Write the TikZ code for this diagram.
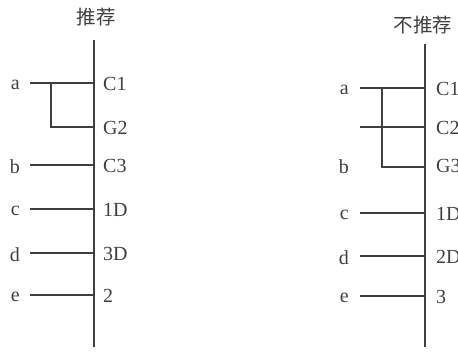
\documentclass[tikz,border=0pt]{standalone}
\usepackage{fontspec}
\setmainfont{Liberation Serif}
\newfontfamily\cjk{Noto Sans CJK SC}
\definecolor{ink}{HTML}{3F3F3F}
\begin{document}
\begin{tikzpicture}[x=1pt,y=-1pt,
  lbl/.style={font=\fontsize{20}{22}\selectfont, text=ink, inner sep=0pt},
  ttl/.style={font=\cjk\fontsize{19.5}{22}\selectfont, text=ink, inner sep=0pt},
  wire/.style={draw=ink, line width=1.4pt}]
\clip (0,0) rectangle (458,351);
\useasboundingbox (0,0) rectangle (458,351);
% ---------- left panel ----------
\node[ttl] (Lt) at (96,17) {推荐};
\coordinate (LT) at (94,40);
\coordinate (LB) at (94,347);
\draw[wire] (LT) -- (LB);
\foreach \n/\y in {a/83,b/165,c/209,d/253,e/295} {
  \coordinate (LY\n) at (0,\y);
  \node[lbl, anchor=east] (L\n) at (20,\y+2) {\n};
  \draw[wire] ([xshift=10pt]L\n.east |- LY\n) -- (LY\n -| LT);
}
\node[lbl, anchor=west] (LC1) at (103,84) {C1};
\node[lbl, anchor=west] (LG2) at (103,128) {G2};
\node[lbl, anchor=west] (LC3) at (103,166) {C3};
\node[lbl, anchor=west] (L1D) at (103,210) {1D};
\node[lbl, anchor=west] (L3D) at (103,254) {3D};
\node[lbl, anchor=west] (L2) at (103,296) {2};
\coordinate (Lk) at (51,83);
\draw[wire] (Lk) |- ([yshift=1pt]LG2.west -| LT);
% ---------- right panel ----------
\node[ttl] (Rt) at (423,25) {不推荐};
\coordinate (RT) at (425,44);
\coordinate (RB) at (425,347);
\draw[wire] (RT) -- (RB);
\node[lbl, anchor=east] (Rb) at (349,167) {b};
\foreach \n/\y in {a/88,c/213,d/256,e/296} {
  \coordinate (RY\n) at (0,\y);
  \node[lbl, anchor=east] (R\n) at (349,\y+2) {\n};
  \draw[wire] ([xshift=11pt]R\n.east |- RY\n) -- (RY\n -| RT);
}
\node[lbl, anchor=west] (RC1) at (436,89) {C1};
\node[lbl, anchor=west] (RC2) at (436,128) {C2};
\node[lbl, anchor=west] (RG3) at (436,166) {G3};
\node[lbl, anchor=west] (R1D) at (436,214) {1D};
\node[lbl, anchor=west] (R2D) at (436,257) {2D};
\node[lbl, anchor=west] (R3) at (436,297) {3};
\coordinate (Rs) at (360,127);
\draw[wire] (Rs) -- (Rs -| RT);
\coordinate (Rk) at (382,88);
\draw[wire] (Rk) |- ([yshift=-1pt]RG3.west -| RT);
\end{tikzpicture}
\end{document}
